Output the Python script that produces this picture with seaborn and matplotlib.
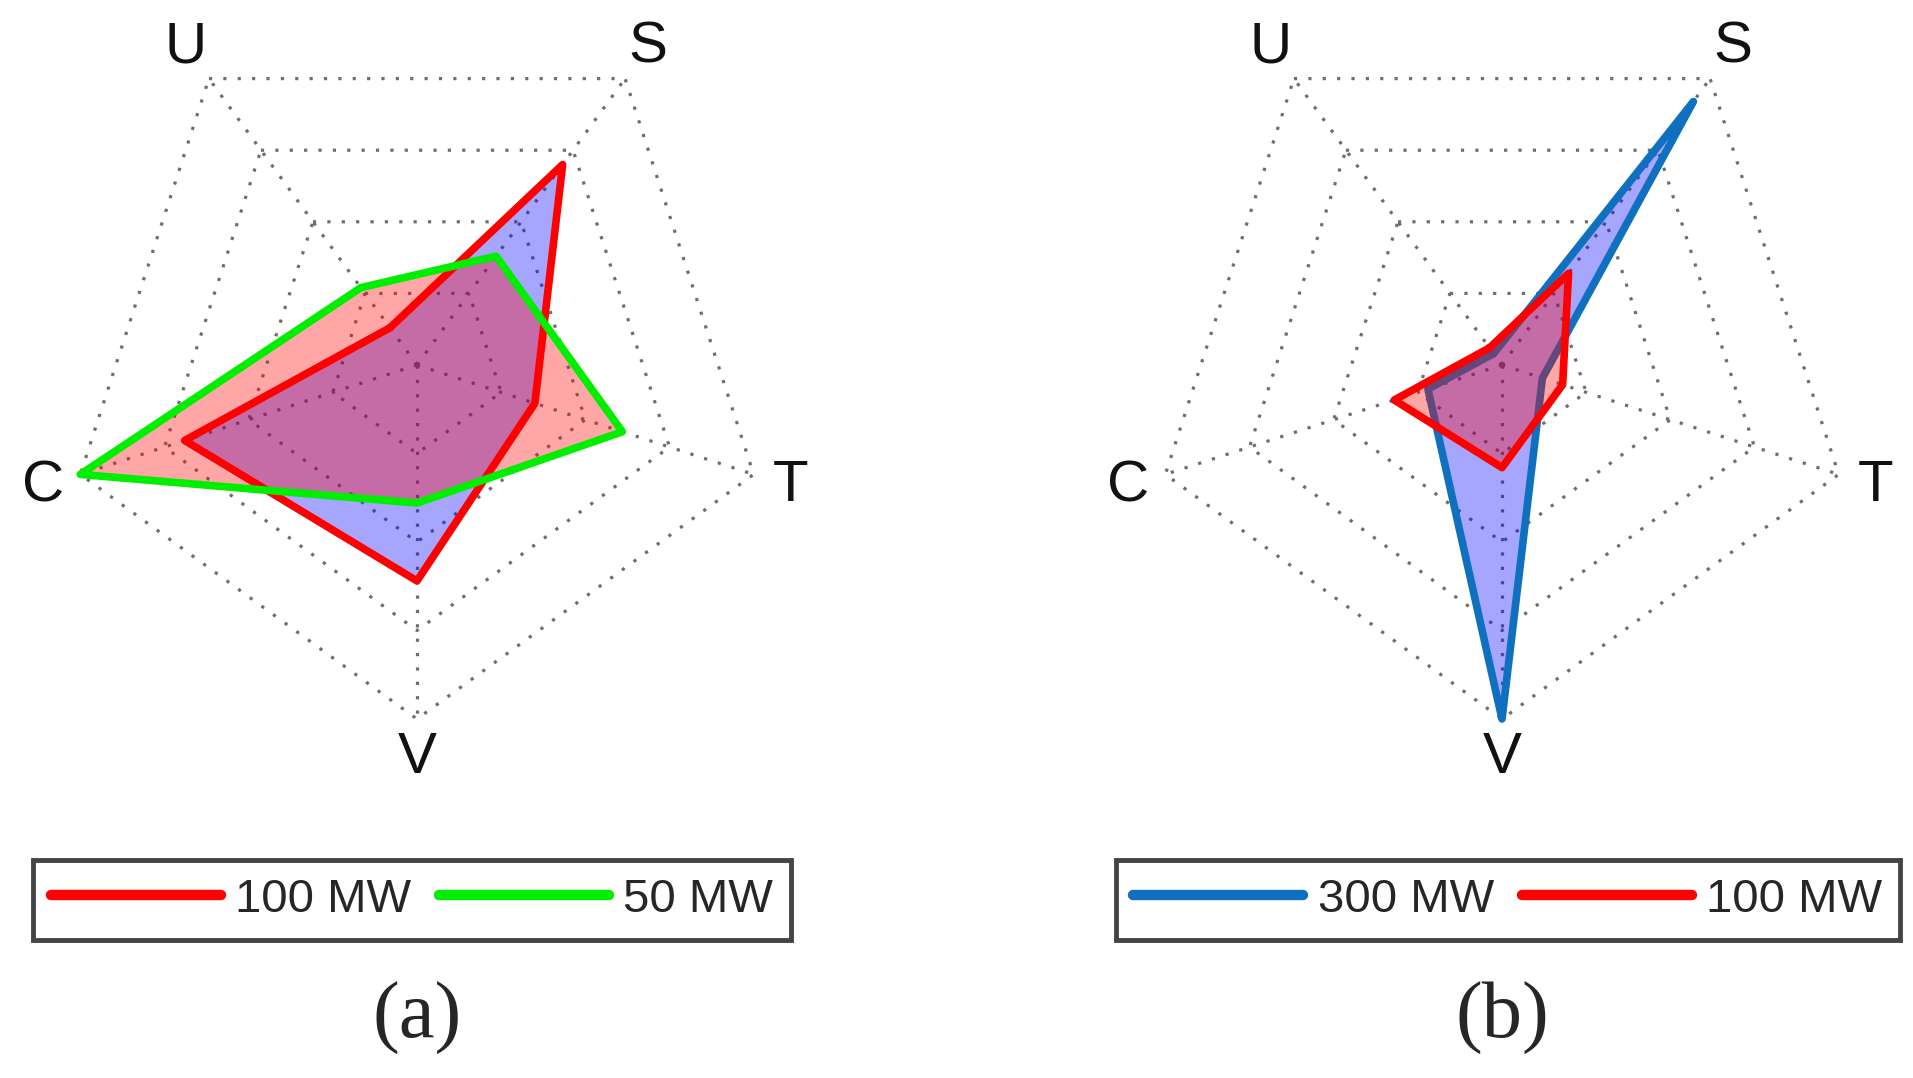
import numpy as np
import matplotlib
matplotlib.use("Agg")
import matplotlib.pyplot as plt
import seaborn as sns
from matplotlib.lines import Line2D

# === data (normalised 0..1 per axis) ===
categories = ["U", "S", "T", "V", "C"]
ring_levels = [0.25, 0.5, 0.75, 1.0]

a_labels = ["100 MW", "50 MW"]
a_100mw = [0.13, 0.70, 0.35, 0.61, 0.69]
a_50mw = [0.27, 0.38, 0.61, 0.39, 1.00]

b_labels = ["300 MW", "100 MW"]
b_300mw = [0.04, 0.92, 0.12, 1.00, 0.22]
b_100mw = [0.06, 0.32, 0.18, 0.29, 0.32]

# === style ===
sns.set_theme(style="white")
plt.rcParams["font.family"] = ["Liberation Sans", "DejaVu Sans"]

W, H = 1913, 1078
R_PX = 354          # radius of outer ring in pixels
angles = np.deg2rad(126 - 72 * np.arange(len(categories)))


def to_xy(vals):
    r = np.append(vals, vals[0])
    th = np.append(angles, angles[0])
    return r * np.cos(th), r * np.sin(th)


def radar(cx_px, series, labels, line_colors, fill_colors, legend_cx, caption):
    ax = fig.add_axes([(cx_px - 417) / W, (H - 800) / H, 834 / W, 800 / H])
    ax.axis("off")

    # pentagon rings and spokes
    for lvl in ring_levels:
        gx, gy = to_xy([lvl] * len(categories))
        ax.plot(gx, gy, color="#6e6e6e", lw=2.3, ls=(0, (1, 3.5)), zorder=1)
    for th in angles:
        ax.plot([0, np.cos(th)], [0, np.sin(th)], color="#6e6e6e", lw=2.3,
                ls=(0, (1, 3.5)), zorder=1)

    # data polygons
    for i, (vals, lc, fc) in enumerate(zip(series, line_colors, fill_colors)):
        x, y = to_xy(vals)
        ax.fill(x, y, color=fc, alpha=0.35, lw=0, zorder=2 + 2 * i)
        sns.lineplot(x=x, y=y, sort=False, estimator=None, color=lc, lw=5.5,
                     ax=ax, legend=False, zorder=3 + 2 * i)
    for line in ax.get_lines():
        line.set_solid_joinstyle("round")

    # axis labels
    for cat, th in zip(categories, angles):
        ax.text(1.11 * np.cos(th), 1.11 * np.sin(th), cat, ha="center",
                va="center", fontsize=42, color="#111111", clip_on=False)

    ax.set_xlim(-417 / R_PX, 417 / R_PX)
    ax.set_ylim(-(800 - 365) / R_PX, 365 / R_PX)
    ax.set_xlabel("")
    ax.set_ylabel("")

    handles = [Line2D([], [], color=c, lw=7.5) for c in line_colors]
    leg = ax.legend(handles, labels, loc="center",
                    bbox_to_anchor=(legend_cx / W, 1 - 900 / H),
                    bbox_transform=fig.transFigure, ncol=2, fontsize=34,
                    handlelength=3.6, handletextpad=0.3, columnspacing=0.6,
                    borderpad=0.38, fancybox=False, edgecolor="#444444",
                    framealpha=1)
    leg.get_frame().set_linewidth(3.5)

    fig.text(cx_px / W, 1 - 1018 / H, caption, ha="center", va="center",
             fontsize=58, family=["Liberation Serif", "DejaVu Serif"])
    return ax


fig = plt.figure(figsize=(W / 100, H / 100), dpi=100)

radar(417, [a_100mw, a_50mw], a_labels, ["#ff0000", "#00ee00"],
      ["#0000ff", "#ff0000"], 412, "(a)")
radar(1502, [b_300mw, b_100mw], b_labels, ["#1070c0", "#ff0000"],
      ["#0000ff", "#ff0000"], 1508, "(b)")

fig.savefig("out.png", dpi=100, facecolor="white")
